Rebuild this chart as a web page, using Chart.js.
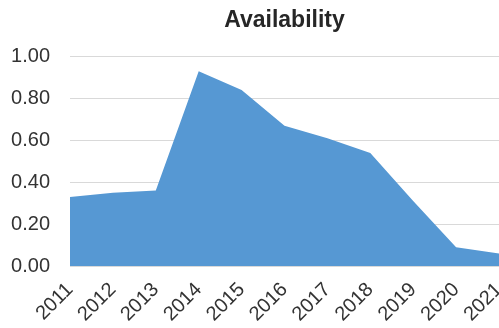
<!DOCTYPE html>
<html>
<head>
<meta charset="utf-8">
<script src="https://cdn.jsdelivr.net/npm/chart.js@4/dist/chart.umd.min.js"></script>
<style>
  html, body {margin: 0; padding: 0; background: #fff;}
  #box {width: 499px; height: 328px;}
</style>
</head>
<body>
<div id="box"><canvas id="areaChart"></canvas></div>
<script>
// годы и доступность по годам
var years = ['2011', '2012', '2013', '2014', '2015', '2016', '2017', '2018', '2019', '2020', '2021'];
var availability = [0.33, 0.35, 0.36, 0.93, 0.84, 0.67, 0.61, 0.54, 0.31, 0.09, 0.06];
var yTicks = [0, 0.2, 0.4, 0.6, 0.8, 1.0];

var textColor = '#333333', gridColor = '#d9d9d9', fillColor = 'rgb(86, 152, 211)';

const ctx = document.getElementById('areaChart').getContext('2d');
const areaChart = new Chart(ctx, {
    type: 'line',
    data: {
        labels: years,
        datasets: [{
            label: 'Availability',
            data: availability,
            fill: 'origin',
            backgroundColor: fillColor,
            borderWidth: 0,
            pointRadius: 0,
            tension: 0
        }]
    },
    options: {
        responsive: true,
        maintainAspectRatio: false,
        animation: false,
        layout: {padding: 0},
        plugins: {
            legend: {display: false},
            tooltip: {enabled: false},
            title: {
                display: true,
                text: 'Availability',
                fullSize: false, //заголовок по центру области графика
                color: '#262626',
                font: {family: 'Liberation Sans', size: 23, weight: 'bold'},
                padding: {top: 7, bottom: 22}
            }
        },
        scales: {
            x: {
                offset: false,
                grid: {display: false, drawTicks: false},
                border: {display: true, color: gridColor, z: 1},
                ticks: {
                    color: textColor,
                    font: {family: 'Liberation Sans', size: 20},
                    minRotation: 45,
                    maxRotation: 45,
                    autoSkip: false,
                    padding: 12
                },
                afterFit: function(scale){
                    scale.height = 62;
                    scale.paddingLeft = 0;
                    scale.paddingRight = 0; // последняя подпись уходит за край
                }
            },
            y: {
                min: 0,
                max: 1,
                afterBuildTicks: function(scale){
                    scale.ticks = yTicks.map(function(v){ return {value: v}; });
                },
                grid: {color: gridColor, lineWidth: 1, drawTicks: false},
                border: {display: false},
                ticks: {
                    color: textColor,
                    font: {family: 'Liberation Sans', size: 20},
                    padding: 20,
                    callback: function(value){ return Number(value).toFixed(2); }
                },
                afterFit: function(scale){
                    scale.width = 70;
                }
            }
        }
    }
});
</script>
</body>
</html>
